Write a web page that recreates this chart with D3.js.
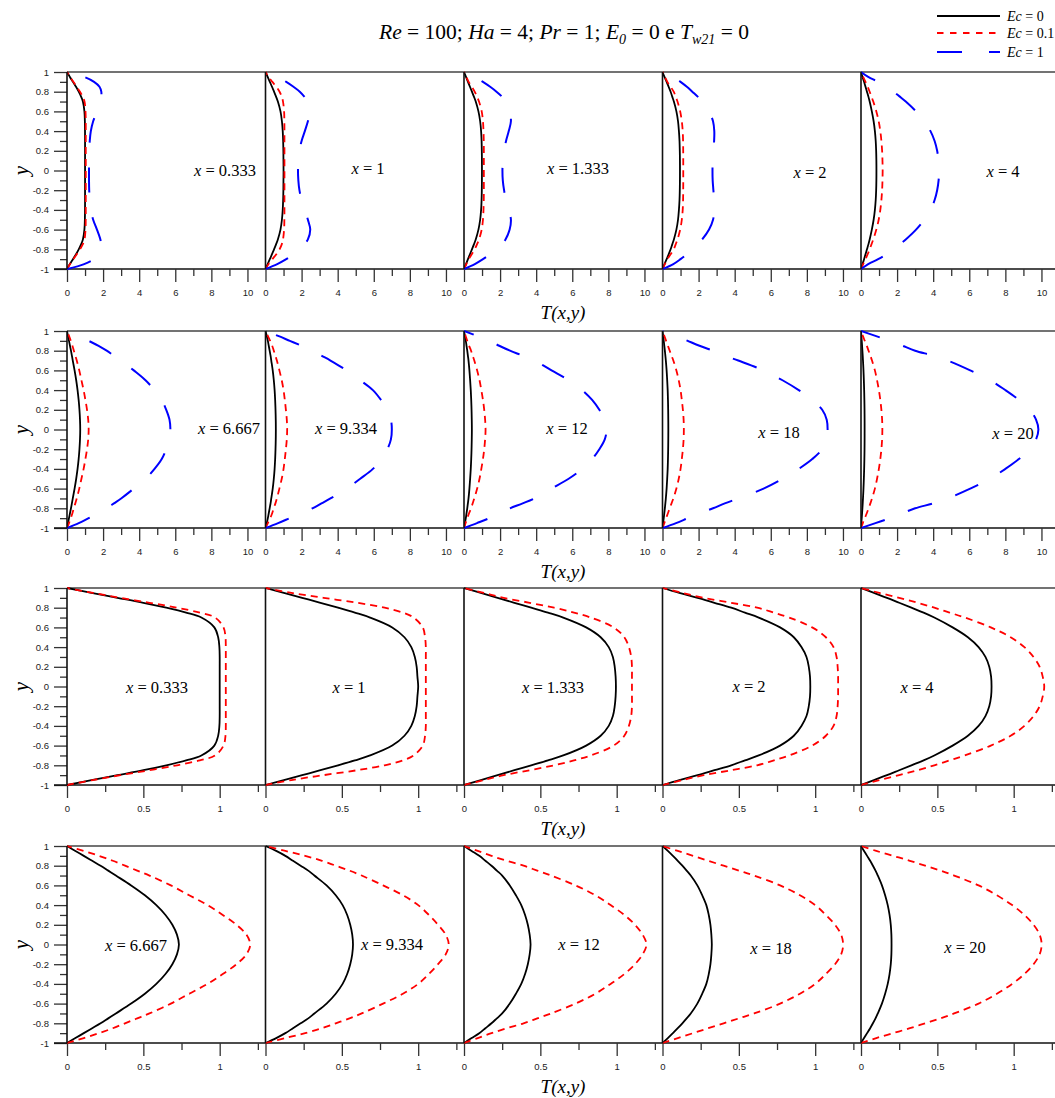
<!DOCTYPE html>
<html>
<head>
<meta charset="utf-8">
<script src="https://cdn.jsdelivr.net/npm/d3@7"></script>
<style>
  html, body { margin: 0; padding: 0; background: #fff; }
  svg { display: block; }
</style>
</head>
<body>
<svg id="chart" width="1055" height="1098"></svg>
<script>
// ---------------- DATA ----------------
const yGrid = [-1,-0.95,-0.9,-0.85,-0.8,-0.75,-0.7,-0.6,-0.5,-0.4,-0.3,-0.2,-0.1,0,0.1,0.2,0.3,0.4,0.5,0.6,0.7,0.75,0.8,0.85,0.9,0.95,1];
const stations = ["0.333","1","1.333","2","4","6.667","9.334","12","18","20"];
const seriesNames = ["Ec = 0","Ec = 0.1","Ec = 1"];

// T(y) for Ec = 0, one array per station
const ec0 = [
  [0,0.16,0.33,0.5,0.65,0.78,0.88,0.965,0.99,0.998,1,1,1,1,1,1,1,0.998,0.99,0.965,0.88,0.78,0.65,0.5,0.33,0.16,0],
  [0,0.12,0.24,0.36,0.475,0.585,0.685,0.83,0.91,0.955,0.978,0.99,0.995,1,0.995,0.99,0.978,0.955,0.91,0.83,0.685,0.585,0.475,0.36,0.24,0.12,0],
  [0,0.11,0.22,0.33,0.44,0.55,0.65,0.8,0.895,0.948,0.975,0.987,0.993,0.995,0.993,0.987,0.975,0.948,0.895,0.8,0.65,0.55,0.44,0.33,0.22,0.11,0],
  [0,0.11,0.23,0.34,0.45,0.54,0.63,0.77,0.86,0.91,0.943,0.958,0.966,0.968,0.966,0.958,0.943,0.91,0.86,0.77,0.63,0.54,0.45,0.34,0.23,0.11,0],
  [0,0.085,0.17,0.25,0.33,0.41,0.48,0.6,0.7,0.77,0.815,0.84,0.852,0.855,0.852,0.84,0.815,0.77,0.7,0.6,0.48,0.41,0.33,0.25,0.17,0.085,0],
  [0,0.055,0.11,0.165,0.22,0.27,0.32,0.42,0.51,0.585,0.645,0.69,0.72,0.733,0.72,0.69,0.645,0.585,0.51,0.42,0.32,0.27,0.22,0.165,0.11,0.055,0],
  [0,0.07,0.13,0.18,0.23,0.28,0.32,0.4,0.46,0.505,0.535,0.555,0.568,0.573,0.568,0.555,0.535,0.505,0.46,0.4,0.32,0.28,0.23,0.18,0.13,0.07,0],
  [0,0.05,0.1,0.14,0.18,0.215,0.25,0.3,0.34,0.375,0.4,0.418,0.43,0.436,0.43,0.418,0.4,0.375,0.34,0.3,0.25,0.215,0.18,0.14,0.1,0.05,0],
  [0,0.035,0.068,0.1,0.13,0.158,0.185,0.228,0.26,0.287,0.303,0.314,0.32,0.323,0.32,0.314,0.303,0.287,0.26,0.228,0.185,0.158,0.13,0.1,0.068,0.035,0],
  [0,0.02,0.04,0.06,0.078,0.095,0.11,0.137,0.158,0.175,0.187,0.195,0.199,0.2,0.199,0.195,0.187,0.175,0.158,0.137,0.11,0.095,0.078,0.06,0.04,0.02,0]
];
// T(y) for Ec = 0.1
const ec01 = [
  [0,0.17,0.35,0.54,0.72,0.87,0.97,1.025,1.038,1.04,1.04,1.04,1.04,1.04,1.04,1.04,1.04,1.04,1.038,1.025,0.97,0.87,0.72,0.54,0.35,0.17,0],
  [0,0.17,0.38,0.6,0.78,0.9,0.97,1.03,1.045,1.05,1.05,1.05,1.05,1.05,1.05,1.05,1.05,1.05,1.045,1.03,0.97,0.9,0.78,0.6,0.38,0.17,0],
  [0,0.13,0.26,0.43,0.59,0.72,0.83,0.98,1.05,1.08,1.095,1.1,1.1,1.1,1.1,1.1,1.095,1.08,1.05,0.98,0.83,0.72,0.59,0.43,0.26,0.13,0],
  [0,0.13,0.27,0.45,0.62,0.73,0.83,0.98,1.07,1.12,1.14,1.147,1.15,1.15,1.15,1.147,1.14,1.12,1.07,0.98,0.83,0.73,0.62,0.45,0.27,0.13,0],
  [0,0.12,0.25,0.37,0.48,0.58,0.68,0.85,0.98,1.07,1.13,1.17,1.19,1.2,1.19,1.17,1.13,1.07,0.98,0.85,0.68,0.58,0.48,0.37,0.25,0.12,0],
  [0,0.11,0.21,0.3,0.38,0.46,0.54,0.68,0.8,0.92,1.02,1.11,1.175,1.2,1.175,1.11,1.02,0.92,0.8,0.68,0.54,0.46,0.38,0.3,0.21,0.11,0],
  [0,0.13,0.26,0.37,0.46,0.55,0.63,0.77,0.9,1.0,1.07,1.13,1.18,1.2,1.18,1.13,1.07,1.0,0.9,0.77,0.63,0.55,0.46,0.37,0.26,0.13,0],
  [0,0.09,0.18,0.28,0.39,0.48,0.57,0.73,0.86,0.96,1.05,1.12,1.17,1.195,1.17,1.12,1.05,0.96,0.86,0.73,0.57,0.48,0.39,0.28,0.18,0.09,0],
  [0,0.1,0.2,0.3,0.4,0.5,0.6,0.77,0.9,1.0,1.07,1.13,1.17,1.183,1.17,1.13,1.07,1.0,0.9,0.77,0.6,0.5,0.4,0.3,0.2,0.1,0],
  [0,0.1,0.21,0.32,0.42,0.52,0.61,0.77,0.89,0.99,1.07,1.13,1.17,1.183,1.17,1.13,1.07,0.99,0.89,0.77,0.61,0.52,0.42,0.32,0.21,0.1,0]
];
// T(y) for Ec = 1
const ec1 = [
  [0,0.95,1.5,1.8,1.9,1.9,1.85,1.66,1.45,1.32,1.26,1.23,1.22,1.22,1.22,1.23,1.26,1.32,1.45,1.66,1.85,1.9,1.9,1.8,1.5,0.95,0],
  [0,0.65,1.15,1.55,1.9,2.15,2.35,2.48,2.35,2.18,2.0,1.88,1.82,1.8,1.82,1.88,2.0,2.18,2.35,2.48,2.35,2.15,1.9,1.55,1.15,0.65,0],
  [0,0.6,1.05,1.45,1.8,2.1,2.3,2.53,2.6,2.48,2.33,2.22,2.15,2.13,2.15,2.22,2.33,2.48,2.6,2.53,2.3,2.1,1.8,1.45,1.05,0.6,0],
  [0,0.6,1.0,1.35,1.65,1.95,2.2,2.58,2.8,2.87,2.86,2.82,2.78,2.77,2.78,2.82,2.86,2.87,2.8,2.58,2.2,1.95,1.65,1.35,1.0,0.6,0],
  [0,0.4,0.95,1.42,1.8,2.15,2.48,3.05,3.5,3.85,4.08,4.22,4.3,4.33,4.3,4.22,4.08,3.85,3.5,3.05,2.48,2.15,1.8,1.42,0.95,0.4,0],
  [0,0.65,1.2,1.75,2.2,2.6,3.0,3.7,4.35,4.85,5.25,5.5,5.68,5.73,5.68,5.5,5.25,4.85,4.35,3.7,3.0,2.6,2.2,1.75,1.2,0.65,0],
  [0,0.7,1.35,2.0,2.6,3.1,3.6,4.5,5.25,5.95,6.4,6.75,6.95,7.0,6.95,6.75,6.4,5.95,5.25,4.5,3.6,3.1,2.6,2.0,1.35,0.7,0],
  [0,0.72,1.4,1.95,2.55,3.25,3.9,4.85,5.8,6.55,7.1,7.5,7.8,7.9,7.8,7.5,7.1,6.55,5.8,4.85,3.9,3.25,2.55,1.95,1.4,0.72,0],
  [0,0.75,1.4,2.05,2.8,3.45,4.2,5.6,6.65,7.55,8.3,8.85,9.1,9.15,9.1,8.85,8.3,7.55,6.65,5.6,4.2,3.45,2.8,2.05,1.4,0.75,0],
  [0,0.8,1.6,2.3,3.0,4.0,4.8,6.05,7.15,8.0,8.75,9.35,9.7,9.83,9.7,9.35,8.75,8.0,7.15,6.05,4.8,4.0,3.0,2.3,1.6,0.8,0]
];

// tick values
const yTickLabels = [-1,-0.8,-0.6,-0.4,-0.2,0,0.2,0.4,0.6,0.8,1];
const yMinorTicks = [-0.9,-0.7,-0.5,-0.3,-0.1,0.1,0.3,0.5,0.7,0.9];
const xWideLabels = [0,2,4,6,8,10];
const xWideMinor = [1,3,5,7,9];
const xNarrowLabels = [0,0.5,1];
const xNarrowMinor = [0.25,0.75,1.25];
const xWideDomain = [0,11];
const xNarrowDomain = [0,1.3];

// ---------------- LAYOUT ----------------
const svg = d3.select("#chart");
const SERIF = "'Liberation Serif','Times New Roman',serif";
const SANS = "'Liberation Sans',Arial,sans-serif";
const panelLeft0 = 67, panelW = 198.5, rowH = 197;
const rowTop = [72, 331, 588, 846];
const colors = ["#000000", "#ff0000", "#0000ff"];
const dashes = [null, "7,5", "25,25"];

const rows = [
  {stations:[0,1,2,3,4], domain:xWideDomain, labels:xWideLabels, minor:xWideMinor, series:[ec0,ec01,ec1],
   labelPos:[[225,170],[368,168],[578,168],[810,172],[1003,171]]},
  {stations:[5,6,7,8,9], domain:xWideDomain, labels:xWideLabels, minor:xWideMinor, series:[ec0,ec01,ec1],
   labelPos:[[229,428],[346,428],[567,428],[779,432],[1013,433]]},
  {stations:[0,1,2,3,4], domain:xNarrowDomain, labels:xNarrowLabels, minor:xNarrowMinor, series:[ec0,ec01],
   labelPos:[[157,687],[349,687],[553,687],[749,686],[917,687]]},
  {stations:[5,6,7,8,9], domain:xNarrowDomain, labels:xNarrowLabels, minor:xNarrowMinor, series:[ec0,ec01],
   labelPos:[[136,945],[392,944],[579,944],[771,948],[965,947]]}
];

const defs = svg.append("defs");

rows.forEach((row, r) => {
  const top = rowTop[r], bottom = top + rowH;
  const y = d3.scaleLinear().domain([-1, 1]).range([bottom, top]);
  const g = svg.append("g");

  // y axis ticks (first panel only)
  const yMajor = d3.axisLeft(y).tickValues(yTickLabels).tickSize(13).tickPadding(5)
    .tickFormat(d => String(d));
  const yMin = d3.axisLeft(y).tickValues(yMinorTicks).tickSize(7).tickFormat("");
  const ga = g.append("g").attr("transform", `translate(${panelLeft0},0)`).call(yMajor);
  g.append("g").attr("transform", `translate(${panelLeft0},0)`).call(yMin);
  g.selectAll(".domain").remove();
  ga.selectAll("text").attr("font-family", SANS).attr("font-size", 9.5).attr("fill", "#222");
  g.selectAll(".tick line").attr("stroke", "#333").attr("stroke-width", 1.3);

  // y axis title
  svg.append("text").attr("transform", `translate(21,${(top+bottom)/2}) rotate(-90)`)
    .attr("text-anchor", "middle").attr("dominant-baseline", "central")
    .attr("font-family", SERIF).attr("font-style", "italic").attr("font-size", 21).text("y");

  row.stations.forEach((si, c) => {
    const left = panelLeft0 + c * panelW;
    const x = d3.scaleLinear().domain(row.domain).range([left, left + panelW]);
    const pg = svg.append("g");

    const clipId = `clip-${r}-${c}`;
    defs.append("clipPath").attr("id", clipId).append("rect")
      .attr("x", left).attr("y", top - 3).attr("width", panelW).attr("height", rowH + 6);

    // x axis ticks
    const xMaj = d3.axisBottom(x).tickValues(row.labels).tickSize(13).tickPadding(7).tickFormat(d => String(d));
    const xMin = d3.axisBottom(x).tickValues(row.minor).tickSize(7).tickFormat("");
    const xa = pg.append("g").attr("transform", `translate(0,${bottom})`).call(xMaj);
    pg.append("g").attr("transform", `translate(0,${bottom})`).call(xMin);
    pg.selectAll(".domain").remove();
    xa.selectAll("text").attr("font-family", SANS).attr("font-size", 9.5).attr("fill", "#222");
    pg.selectAll(".tick line").attr("stroke", "#333").attr("stroke-width", 1.3);

    // curves
    const line = d3.line().x(d => x(d[0])).y(d => y(d[1])).curve(d3.curveCatmullRom.alpha(0.5));
    row.series.forEach((ser, k) => {
      const pts = ser[si].map((t, i) => [t, yGrid[i]]);
      pg.append("path").attr("d", line(pts)).attr("fill", "none")
        .attr("clip-path", `url(#${clipId})`)
        .attr("stroke", colors[k]).attr("stroke-width", k === 2 ? 2 : 1.8)
        .attr("stroke-dasharray", dashes[k]);
    });

    // left axis line of panel
    pg.append("line").attr("x1", left).attr("x2", left).attr("y1", top).attr("y2", bottom)
      .attr("stroke", "#111").attr("stroke-width", 1.6);

    // station label
    const lp = row.labelPos[c];
    const lt = svg.append("text").attr("x", lp[0]).attr("y", lp[1]).attr("text-anchor", "middle")
      .attr("dominant-baseline", "central").attr("font-family", SERIF).attr("font-size", 16.5);
    lt.append("tspan").attr("font-style", "italic").text("x");
    lt.append("tspan").text(" = " + stations[si]);
  });

  // top border and bottom axis line
  g.append("line").attr("x1", panelLeft0).attr("x2", 1055).attr("y1", top).attr("y2", top)
    .attr("stroke", "#444").attr("stroke-width", 1.6);
  g.append("line").attr("x1", panelLeft0 - 13).attr("x2", 1055).attr("y1", bottom).attr("y2", bottom)
    .attr("stroke", "#111").attr("stroke-width", 1.6);

  // x axis title
  svg.append("text").attr("x", 563).attr("y", bottom + 43).attr("text-anchor", "middle")
    .attr("dominant-baseline", "central").attr("font-family", SERIF).attr("font-style", "italic")
    .attr("font-size", 19).text("T(x,y)");
});

// ---------------- TITLE ----------------
const title = svg.append("text").attr("x", 564).attr("y", 39).attr("text-anchor", "middle")
  .attr("font-family", SERIF).attr("font-size", 21.5);
const it = (s) => title.append("tspan").attr("font-style", "italic").text(s);
const rm = (s) => title.append("tspan").text(s);
it("Re"); rm(" = 100; "); it("Ha"); rm(" = 4; "); it("Pr"); rm(" = 1; "); it("E");
title.append("tspan").attr("font-style", "italic").attr("font-size", 14).attr("dy", 5).text("0");
title.append("tspan").attr("dy", -5).text(" = 0 e ");
it("T");
title.append("tspan").attr("font-style", "italic").attr("font-size", 14).attr("dy", 5).text("w21");
title.append("tspan").attr("dy", -5).text(" = 0");

// ---------------- LEGEND ----------------
const legY = [16, 33, 52];
seriesNames.forEach((name, k) => {
  svg.append("line").attr("x1", 937).attr("x2", 1000).attr("y1", legY[k]).attr("y2", legY[k])
    .attr("stroke", colors[k]).attr("stroke-width", 2)
    .attr("stroke-dasharray", k === 1 ? "6.5,6.5" : (k === 2 ? "25,27" : null));
  const t = svg.append("text").attr("x", 1007).attr("y", legY[k]).attr("dominant-baseline", "central")
    .attr("font-family", SERIF).attr("font-size", 14);
  t.append("tspan").attr("font-style", "italic").text("Ec");
  t.append("tspan").text(name.slice(2));
});
</script>
</body>
</html>
